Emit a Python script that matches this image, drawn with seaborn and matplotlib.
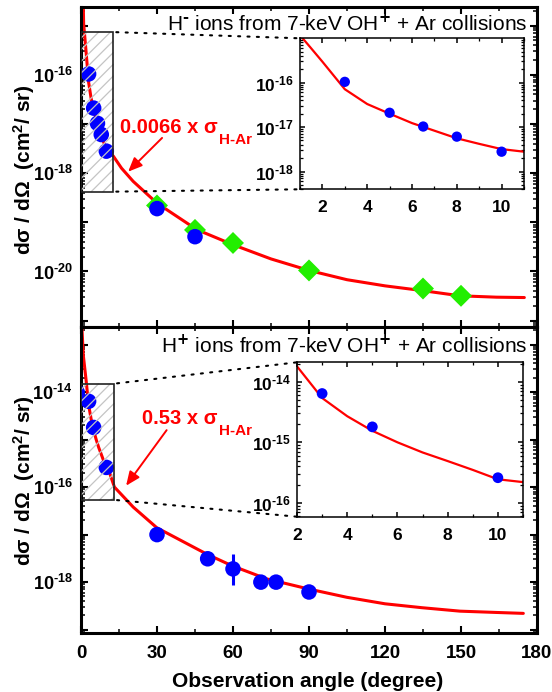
import matplotlib
matplotlib.use("Agg")
import matplotlib.pyplot as plt
from matplotlib.patches import Rectangle, ConnectionPatch
from matplotlib.lines import Line2D
from matplotlib.transforms import IdentityTransform
from matplotlib.ticker import LogLocator, FuncFormatter, MultipleLocator, NullFormatter
import numpy as np
import seaborn as sns

sns.set_style("ticks", {"axes.edgecolor": "black", "xtick.color": "black", "ytick.color": "black",
                        "text.color": "black", "axes.labelcolor": "black",
                        "xtick.direction": "in", "ytick.direction": "in"})
plt.rcParams['font.family'] = ['Liberation Sans', 'DejaVu Sans']
plt.rcParams['font.weight'] = 'bold'
plt.rcParams['mathtext.fontset'] = 'custom'
plt.rcParams['mathtext.rm'] = 'Liberation Sans:bold'
plt.rcParams['mathtext.bf'] = 'Liberation Sans:bold'
plt.rcParams['mathtext.it'] = 'Liberation Sans:italic'

# ---- datos panel H- ----
hm_ang = [3, 5, 6.5, 8, 10, 30, 45]
hm_dcs = [1.04e-16, 2.1e-17, 1.03e-17, 6.1e-18, 2.8e-18, 1.9e-19, 5.1e-20]
hm_green_ang = [30, 45, 60, 90, 135, 150]
hm_green_dcs = [2.2e-19, 7.0e-20, 3.8e-20, 1.05e-20, 4.5e-21, 3.2e-21]
hm_fit_ang = [0.9, 1.04, 1.45, 2, 3, 4, 5, 6, 7, 8, 9, 10, 11, 12.8, 16, 20.6, 30, 45.7, 60,
              75, 90, 105, 120, 134.5, 149.6, 164, 175]
hm_fit_dcs = [2.6e-15, 1.1e-15, 6.3e-16, 2.95e-16, 7.1e-17, 3.3e-17, 2.0e-17, 1.23e-17, 8.3e-18,
              5.6e-18, 4.2e-18, 3.2e-18, 2.8e-18, 2.2e-18, 1.26e-18, 6.8e-19, 2.45e-19, 7.1e-20,
              3.5e-20, 1.8e-20, 1.05e-20, 6.8e-21, 5.1e-21, 4.1e-21, 3.2e-21, 3.0e-21, 2.95e-21]

# ---- datos panel H+ ----
hp_ang = [-1.5, 3, 5, 10, 30, 50, 60, 71, 77, 90]
hp_dcs = [1.0e-14, 6.4e-15, 1.8e-15, 2.6e-16, 1.0e-17, 3.1e-18, 1.9e-18, 1.0e-18, 1.0e-18, 6.2e-19]
hp_err_ang = [60]
hp_err_val = [1.9e-18]
hp_err_lo = [8.5e-19]
hp_err_hi = [3.9e-18]
hp_fit_ang = [0.3, 0.9, 2, 3, 4, 5, 6, 7, 8, 9, 10, 11, 13.2, 20.6, 29.9, 49.6, 59.7, 73.3, 89.7,
              104.9, 120, 134.5, 149.6, 164, 174.6]
hp_fit_dcs = [2.6e-13, 6.0e-14, 1.8e-14, 5.4e-15, 2.7e-15, 1.55e-15, 1.0e-15, 6.8e-16, 4.9e-16,
              3.5e-16, 2.45e-16, 2.2e-16, 1.0e-16, 3.8e-17, 1.4e-17, 3.9e-18, 2.2e-18, 1.17e-18,
              7.2e-19, 4.8e-19, 3.5e-19, 2.9e-19, 2.45e-19, 2.3e-19, 2.2e-19]

# limites y zona ampliada
hm_ylim = (7.6e-22, 2.45e-15)
hp_ylim = (8.5e-20, 2.4e-13)
hm_in_xlim, hm_in_ylim = (1, 11), (4.0e-19, 9.9e-16)
hp_in_xlim, hp_in_ylim = (2, 11), (5.9e-17, 2.1e-14)
hm_box = (0, 12.7, 4.2e-19, 7.4e-16)
hp_box = (0, 13.0, 5.4e-17, 1.5e-14)


def decade_label(e):
    return r'$\mathbf{10}^{\text{-}\mathbf{%d}}$' % abs(e)


def even_decades(v, pos):
    e = int(round(np.log10(v)))
    if e % 2:
        return ''
    return decade_label(e)


def all_decades(v, pos):
    return decade_label(int(round(np.log10(v))))


def style_main(ax, ylim):
    ax.set_yscale('log')
    ax.set_xlim(0, 180)
    ax.set_ylim(*ylim)
    ax.xaxis.set_major_locator(MultipleLocator(30))
    ax.xaxis.set_minor_locator(MultipleLocator(15))
    ax.yaxis.set_major_locator(LogLocator(base=10, numticks=40))
    ax.yaxis.set_minor_locator(LogLocator(base=10, subs=np.arange(2, 10), numticks=40))
    ax.yaxis.set_major_formatter(FuncFormatter(even_decades))
    ax.yaxis.set_minor_formatter(NullFormatter())
    ax.tick_params(which='both', direction='in', top=True, right=True)
    ax.tick_params(axis='y', labelsize=13, pad=6)
    ax.tick_params(axis='x', labelsize=13.5, pad=9)
    ax.tick_params(which='major', length=4.7, width=1.5)
    ax.tick_params(which='minor', length=2.9, width=1.1)
    for s in ax.spines.values():
        s.set_linewidth(2.2)
    ax.set_xlabel('')
    ax.set_ylabel('')


def style_inset(ax, xlim, ylim):
    ax.set_yscale('log')
    ax.set_xlim(*xlim)
    ax.set_ylim(*ylim)
    ax.xaxis.set_major_locator(MultipleLocator(2))
    ax.xaxis.set_minor_locator(MultipleLocator(1))
    ax.yaxis.set_major_locator(LogLocator(base=10, numticks=40))
    ax.yaxis.set_minor_locator(LogLocator(base=10, subs=np.arange(2, 10), numticks=40))
    ax.yaxis.set_major_formatter(FuncFormatter(all_decades))
    ax.yaxis.set_minor_formatter(NullFormatter())
    ax.tick_params(which='both', direction='in', top=True, right=True, labelsize=12.5)
    ax.tick_params(which='major', length=3.5, width=1.1)
    ax.tick_params(which='minor', length=2.0, width=0.9)
    ax.tick_params(axis='y', pad=4.5)
    ax.tick_params(axis='x', pad=8)
    for s in ax.spines.values():
        s.set_linewidth(1.1)
    ax.set_xlabel('')
    ax.set_ylabel('')


def draw_box(ax, box):
    # caja con rayado gris, las rayas se hacen a mano cada ~12 px y se recortan a la caja
    x0, x1, y0, y1 = box
    frame = Rectangle((x0, y0), x1 - x0, y1 - y0, fill=False, edgecolor='#222222', lw=1.2, zorder=6)
    ax.add_patch(frame)
    (px0, py0), (px1, py1) = ax.transData.transform([(x0, y0), (x1, y1)])
    for c in np.arange(px0 - py1 + 6, px1 - py0, 11.7):
        ya = max(py0, px0 - c)
        yb = min(py1, px1 - c)
        if yb <= ya:
            continue
        ln = Line2D([ya + c, yb + c], [ya, yb], transform=IdentityTransform(),
                    color='#c4c4c4', lw=0.9, zorder=5)
        ax.add_artist(ln)


fig = plt.figure(figsize=(5.52, 6.92), dpi=100)
L, W = 81 / 552, 456 / 552
ax1 = fig.add_axes([L, 1 - 326.5 / 692, W, 320 / 692])
ax2 = fig.add_axes([L, 1 - 633 / 692, W, 306.5 / 692])
in1 = fig.add_axes([300 / 552, 1 - 189.3 / 692, 224 / 552, 151 / 692])
in2 = fig.add_axes([297 / 552, 1 - 516.7 / 692, 226 / 552, 154.4 / 692])

# ---- panel de arriba: H- ----
ax1.set_yscale('log')
sns.lineplot(x=hm_fit_ang, y=hm_fit_dcs, ax=ax1, color='red', lw=2.2, zorder=2)
sns.scatterplot(x=hm_green_ang, y=hm_green_dcs, ax=ax1, marker='D', color='#22ee00', s=125,
                edgecolor='none', zorder=3)
sns.scatterplot(x=hm_ang, y=hm_dcs, ax=ax1, marker='o', color='#0000ff', s=125,
                edgecolor='none', zorder=4)
style_main(ax1, hm_ylim)
ax1.tick_params(labelbottom=False)
draw_box(ax1, hm_box)
ax1.text(0.98, 0.924, 'H$^{\\text{-}}$ ions from 7-keV OH$^{\\text{+}}$ + Ar collisions',
         transform=ax1.transAxes, ha='right', va='baseline', fontsize=15, fontweight='normal',
         math_fontfamily='dejavusans')
t1 = ax1.text(15.4, 6.6e-18, '0.0066 x σ', color='red', fontsize=14.5, fontweight='bold',
              va='baseline', ha='left')
ax1.annotate('H-Ar', xy=(1, 0), xycoords=t1, xytext=(1, -5), textcoords='offset points',
             color='red', fontsize=11, fontweight='bold', va='baseline', ha='left')
ax1.annotate('', xy=(18.6, 1.07e-18), xytext=(32, 5.2e-18),
             arrowprops=dict(arrowstyle='-|>,head_length=0.7,head_width=0.3', color='red',
                             lw=1.4, shrinkA=0, shrinkB=0, mutation_scale=12))

in1.set_yscale('log')
sns.lineplot(x=hm_fit_ang, y=hm_fit_dcs, ax=in1, color='red', lw=1.6, zorder=2)
sns.scatterplot(x=hm_ang, y=hm_dcs, ax=in1, marker='o', color='#0000ff', s=55,
                edgecolor='none', zorder=4)
style_inset(in1, hm_in_xlim, hm_in_ylim)

# ---- panel de abajo: H+ ----
ax2.set_yscale('log')
sns.lineplot(x=hp_fit_ang, y=hp_fit_dcs, ax=ax2, color='red', lw=2.2, zorder=2)
ax2.errorbar(hp_err_ang, hp_err_val,
             yerr=[[hp_err_val[0] - hp_err_lo[0]], [hp_err_hi[0] - hp_err_val[0]]],
             fmt='none', ecolor='#0000ff', elinewidth=2.2, capsize=0, zorder=3)
sns.scatterplot(x=hp_ang, y=hp_dcs, ax=ax2, marker='o', color='#0000ff', s=125,
                edgecolor='none', zorder=4)
style_main(ax2, hp_ylim)
draw_box(ax2, hp_box)
ax2.text(0.98, 0.9126, 'H$^{\\text{+}}$ ions from 7-keV OH$^{\\text{+}}$ + Ar collisions',
         transform=ax2.transAxes, ha='right', va='baseline', fontsize=15, fontweight='normal',
         math_fontfamily='dejavusans')
t2 = ax2.text(24.1, 2.1e-15, '0.53 x σ', color='red', fontsize=14.5, fontweight='bold',
              va='baseline', ha='left')
ax2.annotate('H-Ar', xy=(1, 0), xycoords=t2, xytext=(1, -5), textcoords='offset points',
             color='red', fontsize=11, fontweight='bold', va='baseline', ha='left')
ax2.annotate('', xy=(17.8, 1.07e-16), xytext=(33.8, 1.58e-15),
             arrowprops=dict(arrowstyle='-|>,head_length=0.7,head_width=0.3', color='red',
                             lw=1.4, shrinkA=0, shrinkB=0, mutation_scale=12))

in2.set_yscale('log')
sns.lineplot(x=hp_fit_ang, y=hp_fit_dcs, ax=in2, color='red', lw=1.6, zorder=2)
sns.scatterplot(x=hp_ang, y=hp_dcs, ax=in2, marker='o', color='#0000ff', s=60,
                edgecolor='none', zorder=4)
style_inset(in2, hp_in_xlim, hp_in_ylim)

# lineas punteadas de la caja al zoom
for ax, ins, box in ((ax1, in1, hm_box), (ax2, in2, hp_box)):
    for yb, yf in ((box[3], 1), (box[2], 0)):
        con = ConnectionPatch(xyA=(box[1], yb), coordsA=ax.transData, xyB=(0, yf),
                              coordsB=ins.transAxes, color='black', lw=1.5,
                              linestyle=(3, (1, 3.5)))
        fig.add_artist(con)

# etiquetas de ejes
ylab = 'dσ / dΩ  (cm$^{2}$/ sr)'
fig.text(24 / 552, 1 - 170 / 692, ylab, rotation=90, ha='center', va='center',
         fontsize=15, fontweight='bold')
fig.text(24 / 552, 1 - 481 / 692, ylab, rotation=90, ha='center', va='center',
         fontsize=15, fontweight='bold')
fig.text(307.5 / 552, 1 - 687 / 692, 'Observation angle (degree)', ha='center', va='baseline',
         fontsize=15, fontweight='bold')

fig.savefig('out.png', dpi=100)
